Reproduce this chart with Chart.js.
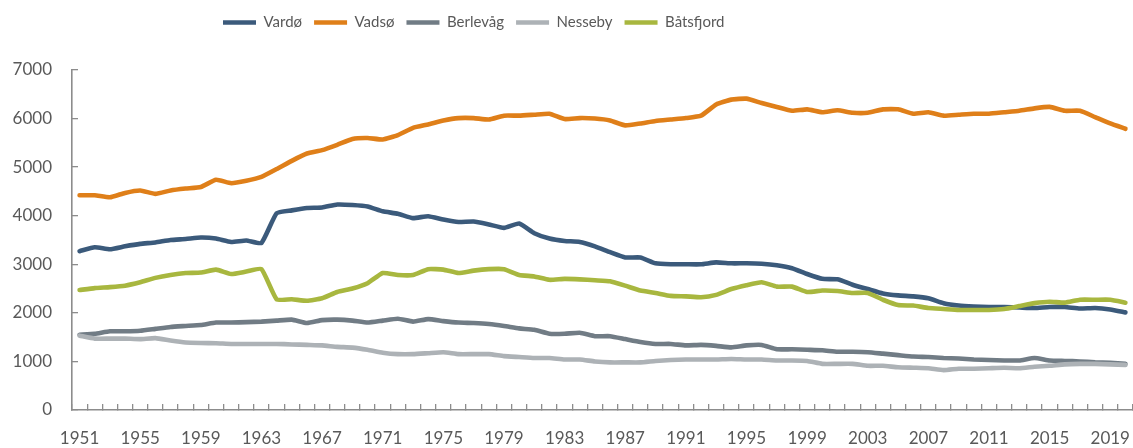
<!DOCTYPE html>
<html>
<head>
<meta charset="utf-8">
<script src="https://cdn.jsdelivr.net/npm/chart.js@4/dist/chart.umd.min.js"></script>
<style>
  html, body { margin: 0; padding: 0; background: #fff; }
  #wrap { width: 1133px; height: 448px; }
</style>
</head>
<body>
<div id="wrap"><canvas id="popChart" width="1133" height="448"></canvas></div>
<script>
/* ---- data ---- */
const years = [
  1951,1952,1953,1954,1955,1956,1957,1958,1959,1960,
  1961,1962,1963,1964,1965,1966,1967,1968,1969,1970,
  1971,1972,1973,1974,1975,1976,1977,1978,1979,1980,
  1981,1982,1983,1984,1985,1986,1987,1988,1989,1990,
  1991,1992,1993,1994,1995,1996,1997,1998,1999,2000,
  2001,2002,2003,2004,2005,2006,2007,2008,2009,2010,
  2011,2012,2013,2014,2015,2016,2017,2018,2019,2020
];

const vardo = [
  3270,3350,3310,3370,3420,3450,3500,3520,3550,3530,
  3460,3490,3440,4050,4110,4160,4170,4230,4220,4190,
  4090,4040,3950,3990,3920,3870,3880,3820,3750,3840,
  3640,3530,3480,3460,3370,3250,3140,3140,3020,3000,
  3000,3000,3040,3020,3020,3010,2980,2920,2800,2700,
  2690,2580,2490,2400,2360,2340,2300,2200,2150,2130,
  2120,2120,2110,2100,2120,2120,2090,2100,2070,2010
];
const vadso = [
  4420,4420,4380,4470,4520,4450,4520,4560,4590,4740,
  4670,4720,4800,4960,5130,5280,5350,5460,5580,5600,
  5570,5660,5810,5880,5960,6010,6010,5980,6060,6060,
  6080,6100,5990,6010,6000,5960,5860,5900,5950,5980,
  6010,6060,6290,6390,6410,6320,6240,6160,6190,6130,
  6170,6120,6120,6190,6190,6100,6130,6060,6080,6100,
  6100,6130,6160,6210,6240,6160,6160,6030,5900,5790
];
const berlevag = [
  1550,1570,1620,1620,1630,1670,1710,1730,1750,1800,
  1800,1810,1820,1840,1860,1790,1850,1860,1840,1800,
  1840,1880,1820,1870,1830,1800,1790,1770,1730,1680,
  1650,1570,1570,1590,1520,1520,1460,1400,1360,1360,
  1330,1340,1320,1290,1330,1340,1250,1250,1240,1230,
  1200,1200,1190,1160,1130,1100,1090,1070,1060,1040,
  1030,1020,1020,1070,1020,1010,1000,980,970,950
];
const nesseby = [
  1530,1470,1470,1470,1460,1480,1430,1390,1380,1375,
  1360,1360,1360,1360,1350,1340,1330,1300,1285,1240,
  1180,1150,1150,1170,1190,1150,1150,1150,1110,1090,
  1070,1070,1040,1040,1000,980,980,980,1010,1030,
  1040,1040,1040,1050,1040,1040,1020,1020,1010,950,
  950,950,910,910,880,870,860,820,850,850,
  860,870,860,890,910,940,950,950,940,930
];
const batsfjord = [
  2470,2510,2530,2560,2630,2720,2780,2820,2830,2890,
  2800,2850,2900,2280,2280,2250,2300,2430,2500,2610,
  2820,2780,2780,2900,2890,2820,2870,2900,2900,2780,
  2750,2680,2700,2690,2670,2650,2560,2460,2410,2350,
  2340,2320,2370,2490,2570,2630,2540,2540,2430,2460,
  2450,2410,2410,2270,2160,2150,2100,2080,2060,2060,
  2060,2080,2140,2200,2230,2210,2270,2270,2270,2210
];

const seriesNames  = ['Vardø','Vadsø','Berlevåg','Nesseby','Båtsfjord'];
const seriesValues = [vardo, vadso, berlevag, nesseby, batsfjord];
const seriesColors = ['#3b5a7b','#df7f19','#717c85','#adb2b6','#a8b73f'];

const yTicks = [0,1000,2000,3000,4000,5000,6000,7000];
const labelEvery = 4;

/* ---- styling ---- */
const axisGrey = '#8c8c8c';
const textGrey = '#595959';
const fontFamily = 'Lato, "Open Sans", sans-serif';

// legend sits in a fixed-height band above the plot, shifted left like the original
const legendBand = {
  id: 'legendBand',
  beforeLayout(chart) {
    const lg = chart.legend;
    if (lg && !lg._banded) {
      const fit = lg.fit;
      lg.fit = function () { fit.call(this); this.height = 70; };
      lg._banded = true;
    }
  },
  afterLayout(chart) {
    if (chart.legend) {
      chart.legend.left = 211;
      chart.legend.top = 3;
    }
  }
};

const datasets = seriesNames.map((name, i) => ({
  label: name,
  data: seriesValues[i],
  borderColor: seriesColors[i],
  backgroundColor: seriesColors[i],
  borderWidth: 4.6,
  borderCapStyle: 'round',
  borderJoinStyle: 'round',
  pointRadius: 0,
  tension: 0.15,
  fill: false,
  order: seriesNames.length - i
}));

new Chart(document.getElementById('popChart'), {
  type: 'line',
  data: { labels: years, datasets: datasets },
  plugins: [legendBand],
  options: {
    responsive: false,
    animation: false,
    layout: { padding: 0 },
    plugins: {
      tooltip: { enabled: false },
      legend: {
        position: 'top',
        align: 'start',
        labels: {
          usePointStyle: true,
          pointStyle: 'line',
          pointStyleWidth: 33,
          padding: 12,
          color: textGrey,
          font: { family: fontFamily, size: 15 },
          sort: (a, b) => a.datasetIndex - b.datasetIndex
        }
      }
    },
    scales: {
      x: {
        offset: true,
        afterFit(scale) {
          scale.height = 38;
          scale.paddingLeft = 0;
          scale.paddingRight = 0;
        },
        grid: {
          offset: true,
          drawOnChartArea: false,
          drawTicks: true,
          tickLength: -6,
          color: axisGrey,
          lineWidth: 1.3
        },
        border: { color: axisGrey, width: 1.6 },
        ticks: {
          autoSkip: false,
          maxRotation: 0,
          padding: 24,
          color: textGrey,
          font: { family: fontFamily, size: 17 },
          callback: (v, i) => (i % labelEvery === 0 ? String(years[i]) : '')
        }
      },
      y: {
        min: yTicks[0],
        max: yTicks[yTicks.length - 1],
        afterFit(scale) { scale.width = 72; },
        afterBuildTicks(scale) { scale.ticks = yTicks.map(v => ({ value: v })); },
        grid: {
          drawOnChartArea: false,
          drawTicks: true,
          tickLength: -6,
          color: axisGrey,
          lineWidth: 1.3
        },
        border: { color: axisGrey, width: 1.6 },
        ticks: {
          padding: 26,
          color: textGrey,
          font: { family: fontFamily, size: 17 },
          callback: v => String(v)
        }
      }
    }
  }
});
</script>
</body>
</html>
